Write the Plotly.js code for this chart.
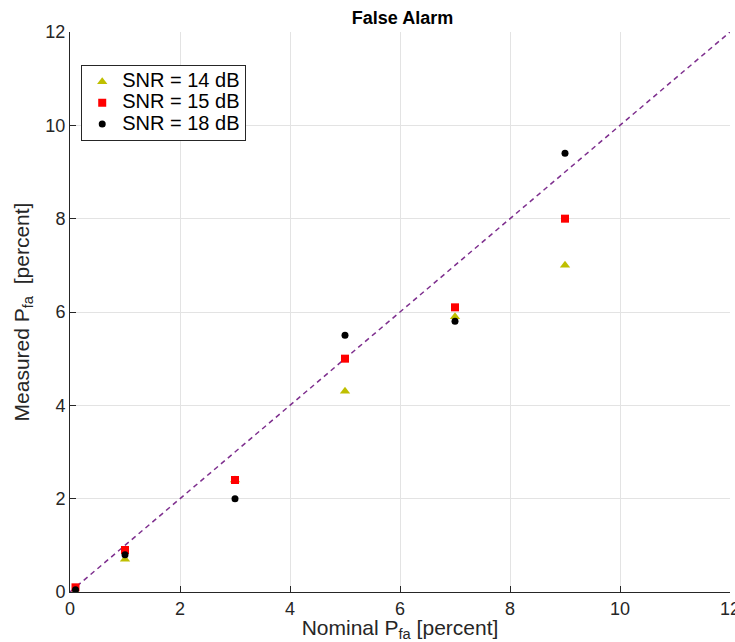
<!DOCTYPE html>
<html>
<head>
<meta charset="utf-8">
<script src="https://cdn.plot.ly/plotly-3.0.1.min.js"></script>
<style>html,body{margin:0;padding:0;background:#fff;}#chart{width:735px;height:642px;}</style>
</head>
<body>
<div id="chart"></div>
<script>
const nominal = [0.1, 1, 3, 5, 7, 9];
const snr14 = [0.0, 0.7, 2.4, 4.3, 5.9, 7.0];
const snr15 = [0.1, 0.9, 2.4, 5.0, 6.1, 8.0];
const snr18 = [0.05, 0.8, 2.0, 5.5, 5.8, 9.4];
const idealX = [0, 12];
const idealY = [0, 12];
const seriesNames = ['SNR = 14 dB', 'SNR = 15 dB', 'SNR = 18 dB'];

function bigName(s) { return '<span style="font-size:20px">' + s + '</span>'; }

const traces = [
  {x: idealX, y: idealY, mode: 'lines', showlegend: false, hoverinfo: 'skip',
   line: {color: '#7E2F8E', width: 1.5, dash: '5px,4px'}},
  {x: nominal, y: snr14, mode: 'markers', name: bigName(seriesNames[0]),
   marker: {symbol: 'triangle-up', color: '#BFBF00', size: 9}},
  {x: nominal, y: snr15, mode: 'markers', name: bigName(seriesNames[1]),
   marker: {symbol: 'square', color: '#FF0000', size: 8}},
  {x: nominal, y: snr18, mode: 'markers', name: bigName(seriesNames[2]),
   marker: {symbol: 'circle', color: '#000000', size: 7}}
];

const axisCommon = {
  range: [0, 12], dtick: 2, tick0: 0,
  showgrid: true, gridcolor: '#e3e3e3', gridwidth: 1,
  zeroline: false, showline: true, linecolor: '#262626', linewidth: 1,
  ticks: 'inside', ticklen: 6, tickcolor: '#262626',
  tickfont: {size: 18, color: '#262626'}, mirror: false,
  ticklabeloverflow: 'allow'
};

const layout = {
  width: 735, height: 642,
  margin: {l: 70, r: 5, t: 32, b: 50},
  paper_bgcolor: '#fff', plot_bgcolor: '#fff',
  font: {family: 'Liberation Sans, Arial, sans-serif', color: '#262626'},
  title: {text: '<b>False Alarm</b>', font: {size: 18, color: '#000'}, x: 0.5 + 35/735, xanchor: 'center', y: 1 - 18/642, yanchor: 'middle'},
  xaxis: Object.assign({}, axisCommon, {
    title: {text: 'Nominal P<sub>fa</sub> [percent]', font: {size: 21, color: '#262626'}, standoff: 2}
  }),
  yaxis: Object.assign({}, axisCommon, {
    title: {text: 'Measured P<sub>fa</sub>  [percent]', font: {size: 21, color: '#262626'}, standoff: 10}
  }),
  legend: {x: 0.017, y: 0.941, xanchor: 'left', yanchor: 'top',
    bordercolor: '#262626', borderwidth: 1, bgcolor: '#fff',
    font: {size: 14, color: '#000'}, tracegroupgap: 0},
  showlegend: true
};

Plotly.newPlot('chart', traces, layout, {displayModeBar: false, staticPlot: true});
</script>
</body>
</html>
